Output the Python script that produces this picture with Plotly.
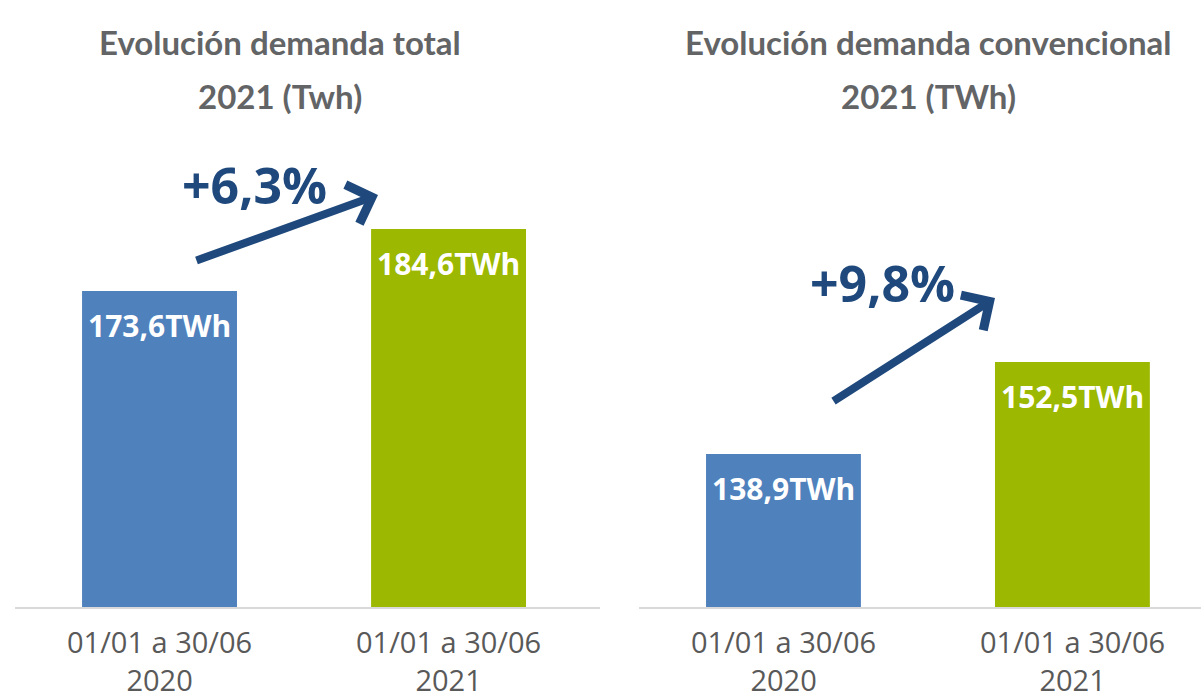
import plotly.graph_objects as go

# ---- data ----
periods = ["2020", "2021"]
period_prefix = "01/01 a 30/06"
total_values = [173.6, 184.6]
total_labels = ["173,6TWh", "184,6TWh"]
conv_values = [138.9, 152.5]
conv_labels = ["138,9TWh", "152,5TWh"]
total_growth = "+6,3%"
conv_growth = "+9,8%"
title_total = ["Evolución demanda total", "2021 (Twh)"]
title_conv = ["Evolución demanda convencional", "2021 (TWh)"]

BLUE = "#4F81BD"
GREEN = "#9CB800"
DARK = "#1F497D"
GRAY_T = "#636466"
GRAY_L = "#595959"

W, H = 1201, 700
TITLEF = "Lato, Roboto, sans-serif"
TICKF = "Open Sans, Lato, sans-serif"
BOLDF = "Open Sans, Noto Sans, sans-serif"

cat_idx = list(range(len(periods)))

fig = go.Figure()
fig.add_trace(go.Bar(x=cat_idx, y=total_values, marker=dict(color=[BLUE, GREEN], line=dict(width=0)),
                     width=0.536, xaxis="x", yaxis="y", hoverinfo="skip"))
fig.add_trace(go.Bar(x=cat_idx, y=conv_values, marker=dict(color=[BLUE, GREEN], line=dict(width=0)),
                     width=0.536, xaxis="x2", yaxis="y2", hoverinfo="skip"))

base_y = 1 - 607 / H
axis_common = dict(showgrid=False, zeroline=False, showticklabels=False, ticks="",
                   showline=True, linecolor="#D9D9D9", linewidth=2, type="linear")
fig.update_layout(
    width=W, height=H,
    margin=dict(l=0, r=0, t=0, b=0),
    paper_bgcolor="white", plot_bgcolor="white",
    showlegend=False,
    xaxis=dict(domain=[15 / W, 600 / W], range=[-0.5, 1.524], anchor="y", **axis_common),
    xaxis2=dict(domain=[639 / W, 1.0], range=[-0.5, 1.445], anchor="y2", **axis_common),
    yaxis=dict(domain=[base_y, 1], range=[117.53, 225.2], visible=False, anchor="x"),
    yaxis2=dict(domain=[base_y, 1], range=[116.28, 206.0], visible=False, anchor="x2"),
)

ann = []
for xr, yr, vals, labs in [("x", "y", total_values, total_labels), ("x2", "y2", conv_values, conv_labels)]:
    # value labels inside bars
    for i, v, t in zip(cat_idx, vals, labs):
        ann.append(dict(x=i, y=v, xref=xr, yref=yr, text=t, showarrow=False, xanchor="center",
                        yanchor="middle", yshift=-35,
                        font=dict(family=BOLDF, size=30, color="white", weight="bold")))
    # category labels (two lines)
    for i, p in zip(cat_idx, periods):
        ann.append(dict(x=i, y=0, xref=xr, yref="paper", text=period_prefix + "<br>" + p, showarrow=False,
                        xanchor="center", yanchor="bottom", borderpad=0,
                        font=dict(family=TICKF, size=29, color=GRAY_L)))

# titles
for lines, cx in [(title_total, 280), (title_conv, 929)]:
    for line, cy in zip(lines, [42, 96]):
        ann.append(dict(x=cx / W, y=1 - cy / H, xref="paper", yref="paper", text=line, showarrow=False,
                        xanchor="center", yanchor="middle",
                        font=dict(family=TITLEF, size=33, color=GRAY_T, weight="bold")))

# growth texts
for txt, cx, cy in [(total_growth, 254, 185), (conv_growth, 882, 283)]:
    ann.append(dict(x=cx / W, y=1 - cy / H, xref="paper", yref="paper", text=txt, showarrow=False,
                    xanchor="center", yanchor="middle",
                    font=dict(family=BOLDF, size=50, color=DARK, weight="bold")))

# arrows
for (tx, ty), (sx, sy) in [((378, 195), (195, 261)), ((995, 298), (832, 402))]:
    ann.append(dict(x=tx / W, y=1 - ty / H, xref="paper", yref="paper", ax=sx - tx, ay=sy - ty,
                    axref="pixel", ayref="pixel", text="", showarrow=True, arrowhead=4,
                    arrowwidth=8, arrowsize=1.0, arrowcolor=DARK, standoff=0))

fig.update_layout(annotations=ann)
fig.write_html("out.html", config={"displayModeBar": False},
               post_script="document.body.style.margin='0';document.body.style.overflow='hidden';")
